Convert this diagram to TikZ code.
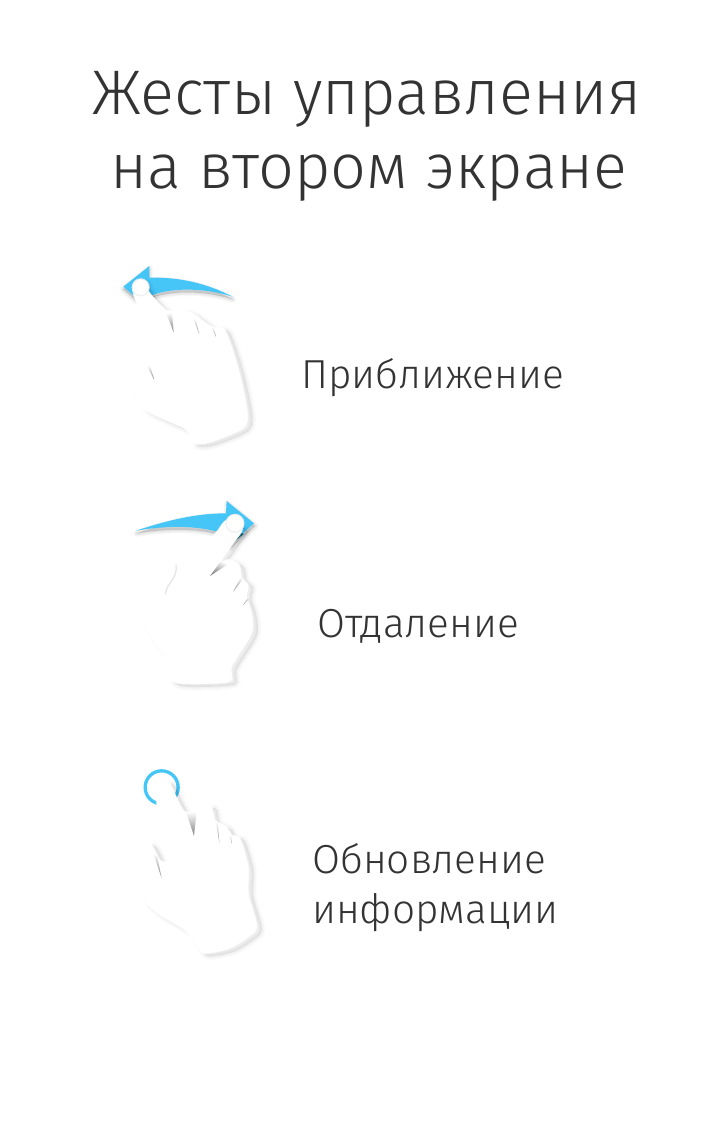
\documentclass[tikz,border=0pt]{standalone}
\usepackage{fontspec}
\setmainfont{Fira Sans Light}
\usetikzlibrary{arrows.meta,positioning}
\definecolor{inktext}{HTML}{333333}
\definecolor{swipeblue}{HTML}{45C6F7}
\newcommand{\softshadow}[2]{%
  \foreach \spread in {0.5,1.5,2.5,3.5,4.5,5.5,6.5,7.5}{\filldraw[black,opacity=#1,line width=\spread pt,line join=round] #2;}}
\begin{document}
\begin{tikzpicture}[x=1pt,y=-1pt]
\tikzset{
  headline/.style={font=\fontsize{63}{63}\selectfont,text=inktext,anchor=base,inner sep=0pt},
  gesturelabel/.style={font=\fontsize{40.5}{40.5}\selectfont,text=inktext,anchor=base west,inner sep=0pt},
  handbody/.style={fill=white,draw=white,line join=round},
  swipe/.style={fill=swipeblue,draw=none},
  crease/.style={top color=white,bottom color=black!50,draw=none},
  thumbline/.style={draw=black!12,line width=1pt,line cap=round},
  tapspot/.style={circle,fill=white,draw=black!7,line width=1pt,minimum size=17pt,inner sep=0pt}
}
\useasboundingbox (0,0) rectangle (720,1134);
\fill[white] (0,0) rectangle (720,1134);

% titles
\node[headline] (n_title_a) at (367,115) {Жесты управления};
\node[headline] (n_title_b) at (369,189) {на втором экране};

% first hand
\begin{scope}[shift={(110,255)},scale=0.3333]
\def\arrowpath{(40,95) -- (118,33) -- (118,68) .. controls (210,66) and (290,85) .. (368,125) .. controls (290,100) and (190,95) .. (122,122) -- (80,130) -- cycle}
\def\handpath{plot[smooth cycle,tension=0.45] coordinates {(68,105) (92,175) (115,240) (122,305) (100,308) (60,328) (62,385) (100,460) (165,495) (230,525) (250,565) (300,562) (400,520) (412,470) (385,340) (345,225) (305,215) (250,175) (215,165) (170,165) (120,115) (95,72)}}
\begin{scope}[shift={(0,8)}]
  \softshadow{0.016}{\arrowpath}
\end{scope}
\fill[swipe] \arrowpath;
\begin{scope}[shift={(15,9)}]
  \softshadow{0.009}{\handpath}
\end{scope}
\filldraw[handbody] \handpath;
\shade[crease] (168,172) -- (186,172) -- (191,232) -- cycle;
\shade[crease] (250,190) -- (256,190) -- (268,238) -- cycle;
\shade[crease] (305,217) -- (310,217) -- (319,248) -- cycle;
\shade[crease] (110,330) -- (122,338) -- (135,380) -- cycle;
\node[tapspot] (n_tap_a) at (92,97) {};
\end{scope}
\node[gesturelabel] (n_zoom_in) at (301,388) {Приближение};

% second hand
\begin{scope}[shift={(120,490)},scale=0.3333]
\def\arrowpath{(48,122) .. controls (130,95) and (220,70) .. (318,70) -- (320,33) -- (402,100) -- (330,165) -- (290,125) .. controls (220,105) and (130,108) .. cycle}
\def\handpath{plot[smooth cycle,tension=0.45] coordinates {(320,90) (290,125) (240,180) (170,225) (165,260) (140,290) (135,315) (65,350) (80,420) (140,510) (150,570) (200,582) (330,575) (335,530) (395,430) (395,370) (380,320) (385,285) (365,262) (358,225) (330,208) (305,212) (340,160) (368,115)}}
\begin{scope}[shift={(3,8)}]
  \softshadow{0.016}{\arrowpath}
\end{scope}
\fill[swipe] \arrowpath;
\fill[swipeblue!55!black] (358,125) -- (372,132) -- (330,165) -- (322,160) -- cycle;
\begin{scope}[shift={(15,9)}]
  \softshadow{0.009}{\handpath}
\end{scope}
\filldraw[handbody] \handpath;
\shade[crease,shading angle=-30] (304,212) -- (325,222) -- (270,258) -- cycle;
\shade[crease] (362,262) -- (368,268) -- (340,305) -- cycle;
\shade[crease] (385,320) -- (388,326) -- (370,345) -- cycle;
\draw[thumbline] (168,225) .. controls (172,245) and (165,260) .. (142,292) -- (136,312);
\node[tapspot,minimum size=18pt] (n_tap_b) at (345,100) {};
\end{scope}
\node[gesturelabel] (n_zoom_out) at (317,637) {Отдаление};

% third hand
\begin{scope}[shift={(120,760)},scale=0.3333]
\def\handpath{plot[smooth cycle,tension=0.45] coordinates {(110,130) (130,190) (150,240) (148,300) (120,300) (90,250) (40,270) (50,350) (70,420) (120,465) (195,510) (220,545) (250,580) (330,565) (400,520) (410,490) (385,400) (385,320) (360,235) (335,225) (320,200) (285,180) (270,135) (195,155) (150,70) (125,70)}}
\node[circle,draw=swipeblue,line width=3.3pt,minimum size=33pt,inner sep=0pt] (n_tap_c) at (125,82) {};
\begin{scope}[shift={(15,9)}]
  \softshadow{0.009}{\handpath}
\end{scope}
\filldraw[handbody] \handpath;
\shade[crease] (198,155) -- (230,155) -- (222,228) -- cycle;
\shade[crease] (288,185) -- (293,185) -- (298,248) -- cycle;
\shade[crease] (328,225) -- (332,225) -- (338,258) -- cycle;
\shade[crease] (100,280) -- (112,290) -- (125,355) -- cycle;
\end{scope}
\node[gesturelabel] (n_refresh_a) at (312,873) {Обновление};
\node[gesturelabel] (n_refresh_b) at (312,923) {информации};
\end{tikzpicture}
\end{document}
